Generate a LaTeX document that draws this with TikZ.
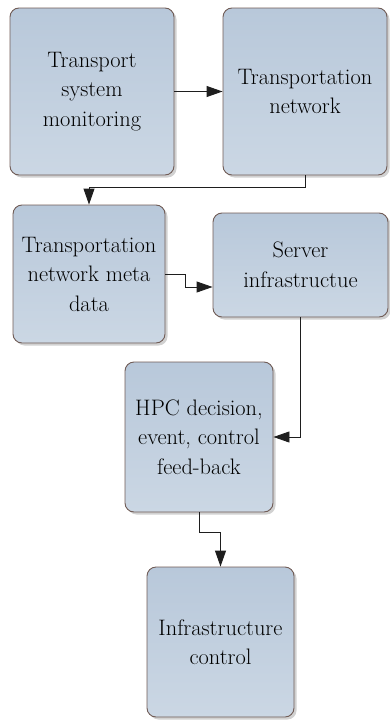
\documentclass[tikz,border=0pt]{standalone}
\usepackage{fontspec}
\usetikzlibrary{arrows.meta,shadows}
\definecolor{boxtop}{RGB}{184,200,218}
\definecolor{boxbot}{RGB}{203,215,228}
\definecolor{boxline}{RGB}{112,92,86}
\definecolor{wire}{RGB}{30,30,30}
\tikzset{
  blk/.style={draw=boxline, line width=0.9pt, rounded corners=9pt,
    top color=boxtop, bottom color=boxbot, inner sep=0pt, align=center,
    text=black, font=\fontsize{22.4}{29.5}\selectfont,
    drop shadow={shadow xshift=2.5pt, shadow yshift=-2.5pt, fill=black!45, opacity=0.4}},
  arr/.style={draw=wire, line width=0.9pt, -{Triangle[length=16pt,width=11pt]}}
}
\begin{document}
\begin{tikzpicture}[x=1pt, y=-1pt]
\useasboundingbox (0,0) rectangle (390,720);
\node[blk, minimum width=164pt, minimum height=167pt] (b1) at (92,91.5) {Transport\\system\\monitoring};
\node[blk, minimum width=164pt, minimum height=167pt] (b2) at (305,91.5) {Transportation\\network};
\node[blk, minimum width=152pt, minimum height=138pt] (b3) at (89,274) {Transportation\\network meta\\data};
\node[blk, minimum width=175pt, minimum height=104pt] (b4) at (300.5,265) {Server\\infrastructue};
\node[blk, minimum width=148pt, minimum height=150pt] (b5) at (199,437) {HPC decision,\\event, control\\feed-back};
\node[blk, minimum width=147pt, minimum height=150pt] (b6) at (220.5,642) {Infrastructure\\control};

\draw[arr] (b1.east) -- (b2.west);
\draw[arr] (b2.south) -- ([yshift=-12pt]b2.south) -| (b3.north);
\draw[arr] (b3.east) -- ++(20,0) |- ([yshift=-22pt]b4.west);
\draw[arr] (b4.south) |- (b5.east);
\draw[arr] (b5.south) -- ++(0,20) -| (b6.north);
\end{tikzpicture}
\end{document}
